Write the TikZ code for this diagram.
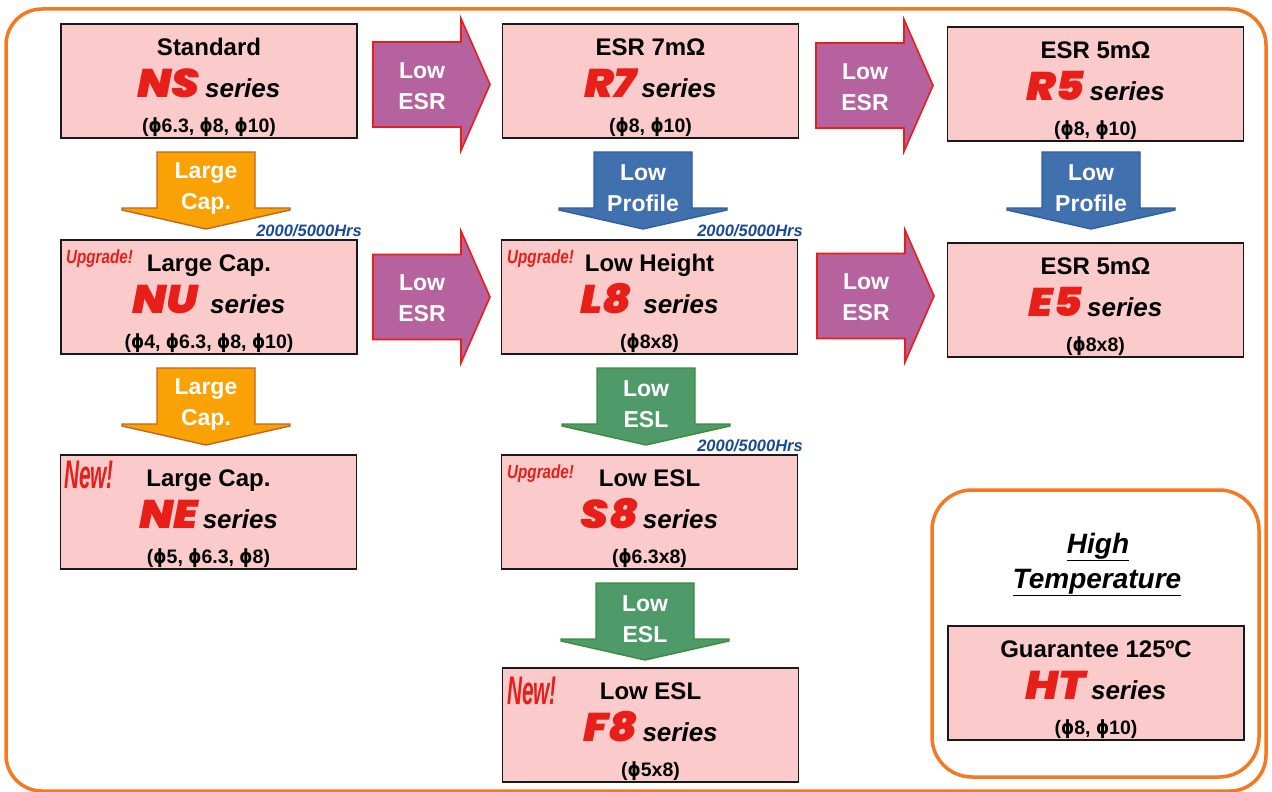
\documentclass[tikz,border=0pt]{standalone}
\usepackage{fontspec}
\setmainfont{Liberation Sans}
\IfFontExistsTF{Poppins Black Italic}{%
  \newfontfamily\heavyit{Poppins Black Italic}[FakeStretch=1.1]%
  \newcommand\codesize{40}}{%
  \IfFontExistsTF{Lato Black Italic}{%
    \newfontfamily\heavyit{Lato Black Italic}[FakeStretch=1.27]%
    \newcommand\codesize{42}}{%
    \newfontfamily\heavyit{DejaVu Sans Bold Oblique}[FakeStretch=1.05]%
    \newcommand\codesize{34}}}
\newfontfamily\narrowit{Liberation Sans Bold Italic}[FakeStretch=0.8]
\newfontfamily\newbadgefont{Liberation Sans Bold Italic}[FakeStretch=0.52]
\newfontfamily\phifont{DejaVu Sans}[FakeStretch=0.85]
\definecolor{pinkbox}{RGB}{251,203,203}
\definecolor{codered}{RGB}{232,30,24}
\definecolor{purp}{RGB}{181,98,158}
\definecolor{redb}{RGB}{232,30,24}
\definecolor{orf}{RGB}{249,161,5}
\definecolor{ord}{RGB}{196,100,28}
\definecolor{bluef}{RGB}{65,112,174}
\definecolor{blued}{RGB}{47,95,158}
\definecolor{greenf}{RGB}{78,154,104}
\definecolor{greend}{RGB}{60,140,62}
\definecolor{frameor}{RGB}{244,121,32}
\definecolor{hrsblue}{RGB}{26,74,148}
\newcommand\codef[1]{{\heavyit\fontsize{\codesize}{\codesize}\selectfont\color{codered}#1}}
\newcommand\seriesw{{\fontsize{26}{26}\selectfont\bfseries\itshape series}}
\newcommand\ph{{\phifont ϕ}}
\tikzset{
 pbox/.style={draw=black!90, line width=1.8pt, fill=pinkbox, minimum width=296pt, minimum height=114pt, inner sep=0pt, outer sep=0pt},
 lone/.style={font=\fontsize{24}{24}\selectfont\bfseries, inner sep=0pt},
 ltwo/.style={inner sep=0pt},
 lthree/.style={font=\fontsize{19.5}{19.5}\selectfont\bfseries, inner sep=0pt},
 rarrow/.style={fill=purp, draw=redb, line width=1.6pt, line join=miter},
 oarrow/.style={fill=orf, draw=ord, line width=1.4pt},
 barrow/.style={fill=bluef, draw=blued, line width=1.4pt},
 garrow/.style={fill=greenf, draw=greend, line width=1.4pt},
 atext/.style={text=white, font=\fontsize{23}{31}\selectfont\bfseries, align=center, inner sep=0pt},
 upg/.style={text=codered, font=\narrowit\fontsize{19}{19}\selectfont, inner sep=0pt, anchor=base west},
 newb/.style={text=codered, font=\newbadgefont\fontsize{40}{40}\selectfont, inner sep=0pt, anchor=base west},
 hrs/.style={text=hrsblue, font=\fontsize{16.5}{16.5}\selectfont\bfseries\itshape, inner sep=0pt, anchor=base east},
 frame/.style={draw=frameor, line width=3.5pt, rounded corners=36pt},
 httitle/.style={font=\fontsize{28}{28}\selectfont\bfseries\itshape, inner sep=0pt, anchor=base},
}
\newcommand\PBox[6]{%
  \node[pbox, anchor=north] (#1) at (#2,#3) {};
  \node[lone, anchor=base] (#1-a) at ([yshift=-31.5pt]#1.north) {#4};
  \node[ltwo, anchor=base] (#1-b) at ([yshift=-73pt]#1.north) {\codef{#5}\hspace{5pt}\seriesw};
  \node[lthree, anchor=base] (#1-c) at ([yshift=-108pt]#1.north) {#6};
}
\newcommand\RArr[4]{%
  \path[rarrow] (#2,#3-42.5) -- (#2+88,#3-42.5) -- (#2+88,#3-66) -- (#2+117,#3) -- (#2+88,#3+66) -- (#2+88,#3+42.5) -- (#2,#3+42.5) -- cycle;
  \node[atext] (#1) at (#2+49,#3+1.5) {#4};
}
\newcommand\DArr[5]{%
  \path[#4] (#2,#3) -- (#2+98,#3) -- (#2+98,#3+56) -- (#2+133,#3+56) -- (#2+133,#3+58) -- (#2+49,#3+77) -- (#2-35,#3+58) -- (#2-35,#3+56) -- (#2,#3+56) -- cycle;
  \node[atext] (#1) at (#2+49,#3+36) {#5};
}
\begin{document}
\begin{tikzpicture}[x=1pt,y=-1pt]
\useasboundingbox (0,0) rectangle (1272,792);
\fill[white] (0,0) rectangle (1272,792);
% outer frame
\draw[frame] (6,9) rectangle (1266,791);
% inner frame
\draw[frame, rounded corners=40pt] (932,490) rectangle (1259,777);
% product boxes
\PBox{ns}{209}{24}{Standard}{NS}{(\ph6.3, \ph8, \ph10)}
\PBox{r7}{650.5}{24}{ESR 7mΩ}{R7}{(\ph8, \ph10)}
\PBox{r5}{1095.5}{27}{ESR 5mΩ}{R5}{(\ph8, \ph10)}
\PBox{nu}{209}{240}{Large Cap.}{NU\,}{(\ph4, \ph6.3, \ph8, \ph10)}
\PBox{l8}{649.5}{240}{Low Height}{L8\,}{(\ph8x8)}
\PBox{e5}{1095.5}{243}{ESR 5mΩ}{E5}{(\ph8x8)}
\PBox{ne}{208.5}{455}{Large Cap.}{NE}{(\ph5, \ph6.3, \ph8)}
\PBox{s8}{649.5}{455}{Low ESL}{S8}{(\ph6.3x8)}
\PBox{f8}{650.5}{668}{Low ESL}{F8}{(\ph5x8)}
\PBox{ht}{1096}{626}{Guarantee 125ºC}{HT}{(\ph8, \ph10)}
% badges
\node[upg] (nu-up) at (66,263) {Upgrade!};
\node[upg] (l8-up) at (507,263) {Upgrade!};
\node[upg] (s8-up) at (507,478) {Upgrade!};
\node[newb] (ne-new) at (64,488) {New!};
\node[newb] (f8-new) at (507,704) {New!};
% hours labels
\node[hrs] (h1) at (362,236) {2000/5000Hrs};
\node[hrs] (h2) at (803,236) {2000/5000Hrs};
\node[hrs] (h3) at (803,451) {2000/5000Hrs};
% right arrows
\RArr{a1}{373}{84.5}{Low\\ESR}
\RArr{a2}{373}{297}{Low\\ESR}
\RArr{a3}{816}{85.5}{Low\\ESR}
\RArr{a4}{817}{296}{Low\\ESR}
% down arrows
\DArr{d1}{157}{152}{oarrow}{Large\\Cap.}
\DArr{d2}{157}{368}{oarrow}{Large\\Cap.}
\DArr{d3}{594}{152}{barrow}{Low\\Profile}
\DArr{d4}{1042}{152}{barrow}{Low\\Profile}
\DArr{d5}{597}{368}{garrow}{Low\\ESL}
\DArr{d6}{596}{583}{garrow}{Low\\ESL}
% high temperature title
\node[httitle] (ht1) at (1098,553) {\underline{High}};
\node[httitle] (ht2) at (1097,588) {\underline{Temperature}};
\end{tikzpicture}
\end{document}
